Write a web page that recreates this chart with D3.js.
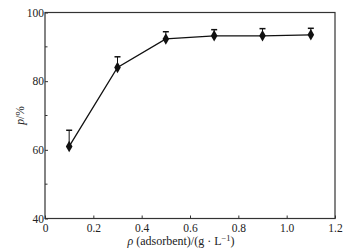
<!DOCTYPE html>
<html>
<head>
<meta charset="utf-8">
<script src="https://cdn.jsdelivr.net/npm/d3@7"></script>
<style>
  body { margin: 0; background: #fff; }
  text { font-family: "Liberation Serif", "DejaVu Serif", serif; fill: #222; }
</style>
</head>
<body>
<div id="chart"></div>
<script>
const dose = [0.1, 0.3, 0.5, 0.7, 0.9, 1.1];
const removal = [61, 84, 92.3, 93.2, 93.2, 93.5];
const errUp = [4.7, 3.1, 2.1, 1.8, 2.1, 1.9];
const xTicks = [0, 0.2, 0.4, 0.6, 0.8, 1.0, 1.2];
const yTicks = [40, 60, 80, 100];
const yMinor = [50, 70, 90];

const width = 362, height = 252;
const margin = {top: 12.5, right: 27, bottom: 33.5, left: 45};

const svg = d3.select('#chart').append('svg').attr('width', width).attr('height', height);

const x = d3.scaleLinear().domain([0, 1.2]).range([margin.left, width - margin.right]);
const y = d3.scaleLinear().domain([40, 100]).range([height - margin.bottom, margin.top]);

const data = dose.map((d, i) => ({x: d, y: removal[i], e: errUp[i]}));

// frame
svg.append('rect')
    .attr('x', x(0)).attr('y', y(100))
    .attr('width', x(1.2) - x(0)).attr('height', y(40) - y(100))
    .attr('fill', 'none').attr('stroke', '#333').attr('stroke-width', 1.2);

// x axis, ticks inward
const xAxis = d3.axisBottom(x).tickValues(xTicks).tickSizeInner(-3).tickSizeOuter(0)
    .tickFormat(d => d === 0 ? '0' : d3.format('.1f')(d));
const gx = svg.append('g').attr('transform', 'translate(0,' + y(40) + ')').call(xAxis);
gx.select('.domain').remove();
gx.selectAll('text').attr('dy', null).attr('y', 13).style('font-size', '11.5px');

// y axis
const yAxis = d3.axisLeft(y).tickValues(yTicks).tickSizeInner(-3).tickSizeOuter(0);
const gy = svg.append('g').attr('transform', 'translate(' + x(0) + ',0)').call(yAxis);
gy.select('.domain').remove();
gy.selectAll('text').attr('x', -1).style('font-size', '11.5px');
gy.selectAll('.tick line').attr('stroke', '#333');
gx.selectAll('.tick line').attr('stroke', '#333');

svg.append('g').selectAll('line').data(yMinor).join('line')
    .attr('x1', x(0)).attr('x2', x(0) + 2.5)
    .attr('y1', d => y(d)).attr('y2', d => y(d))
    .attr('stroke', '#333');

// error bars (upper only)
const eb = svg.append('g').attr('stroke', '#111').attr('stroke-width', 1);
eb.selectAll('line.v').data(data).join('line').attr('class', 'v')
    .attr('x1', d => x(d.x)).attr('x2', d => x(d.x))
    .attr('y1', d => y(d.y)).attr('y2', d => y(d.y + d.e));
eb.selectAll('line.c').data(data).join('line').attr('class', 'c')
    .attr('x1', d => x(d.x) - 3).attr('x2', d => x(d.x) + 3)
    .attr('y1', d => y(d.y + d.e)).attr('y2', d => y(d.y + d.e))
    .attr('stroke-width', 1.5);

// line
const line = d3.line().x(d => x(d.x)).y(d => y(d.y));
svg.append('path').attr('d', line(data))
    .attr('fill', 'none').attr('stroke', '#111').attr('stroke-width', 1.3);

// markers
svg.append('g').selectAll('path').data(data).join('path')
    .attr('d', d3.symbol(d3.symbolDiamond, 38))
    .attr('transform', d => 'translate(' + x(d.x) + ',' + y(d.y) + ')')
    .attr('fill', '#111');

// labels
svg.append('text')
    .attr('transform', 'translate(24,' + ((y(40) + y(100)) / 2) + ') rotate(-90)')
    .attr('text-anchor', 'middle')
    .style('font-size', '11.5px')
    .html('<tspan font-style="italic">p</tspan>/%');

svg.append('text')
    .attr('x', 181).attr('y', 245)
    .attr('text-anchor', 'middle')
    .style('font-size', '12px')
    .html('<tspan font-style="italic">ρ</tspan> (adsorbent)/(g · L<tspan dy="-4" font-size="8.5px">−1</tspan><tspan dy="4">)</tspan>');
</script>
</body>
</html>
